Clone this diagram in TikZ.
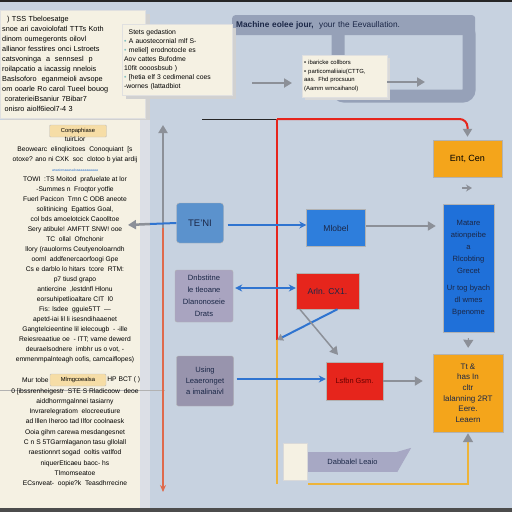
\documentclass[tikz,border=0pt]{standalone}
\usepackage{fontspec}
\setmainfont{Liberation Sans}
\usepackage{tikz}
\usetikzlibrary{positioning,arrows.meta}
\definecolor{bgblue}{HTML}{C7D2E0}
\definecolor{cream}{HTML}{F5F1E3}
\definecolor{stripgray}{HTML}{DCDFE6}
\definecolor{framegray}{HTML}{96A1B8}
\definecolor{tenblue}{HTML}{5B92CD}
\definecolor{modblue}{HTML}{2E7EDC}
\definecolor{tallblue}{HTML}{1F70D9}
\definecolor{boxred}{HTML}{E6251C}
\definecolor{boxorange}{HTML}{F4A51B}
\definecolor{lilac}{HTML}{A9A4C0}
\definecolor{ribbon}{HTML}{A7A8C4}
\definecolor{arrowblue}{HTML}{2F74D0}
\definecolor{arrowgray}{HTML}{8C9098}
\definecolor{goldline}{HTML}{EDB43A}
\definecolor{tagyellow}{HTML}{F6DDA6}
\definecolor{navy}{HTML}{1B2747}
\definecolor{vline}{HTML}{DF6A4C}
\newcommand{\notefont}{\fontsize{7.3}{10}\selectfont}
\newcommand{\smallnote}{\fontsize{6.8}{9}\selectfont}
\newcommand{\tinynote}{\fontsize{5.9}{8.5}\selectfont}
\newcommand{\panelfont}{\fontsize{6.7}{10}\selectfont}
\newcommand{\tagfont}{\fontsize{5.8}{7}\selectfont}
\newcommand{\boxfont}{\fontsize{8.5}{11}\selectfont}
\newcommand{\midfont}{\fontsize{7.6}{12}\selectfont}
\tikzset{
  paper/.style={fill=cream, draw=black!12, inner sep=3pt, align=left},
  flowbox/.style={draw=black!30, line width=.4pt, align=center, inner sep=1pt, text=navy},
  tag/.style={fill=tagyellow, draw=black!25, rounded corners=1pt, inner sep=1pt, font=\tagfont, minimum height=12pt},
  barrow/.style={-{Stealth[length=7pt,width=7pt]}, line width=2pt, arrowblue},
  garrow/.style={-{Triangle[length=8pt,width=9pt]}, line width=2.5pt, arrowgray},
  redline/.style={line width=2pt, boxred},
  goldpath/.style={line width=1.6pt, goldline},
}
\begin{document}
\begin{tikzpicture}[x=1pt,y=-1pt]
\useasboundingbox (0,0) rectangle (512,512);
\fill[bgblue] (0,0) rectangle (512,512);
\fill[black!85] (0,0) rectangle (512,2);
\fill[black!70] (0,508) rectangle (512,512);

% top right frame with its header
\draw[line width=13pt, framegray, rounded corners=6pt] (338,28) rectangle (469,96);
\node[anchor=north west, fill=framegray, rounded corners=3pt, minimum width=243pt, minimum height=20pt, text width=235pt, inner sep=3pt, text=navy, font=\fontsize{8.3}{10}\selectfont] (head) at (232,15) {\textbf{Machine eolee jour,}\ \ your the Eevaullation.};

% paper notes
\fill[black!18] (4,14) rectangle (150,122);
\node[paper, anchor=north west, minimum width=145pt, minimum height=108pt, text width=141pt, inner sep=2pt, font=\notefont] (tss) at (0,10) {\ \ ) TSS Tbeloesatge\\ snoe ari cavoiolofatl TTTs Koth\\ dinom oumegeronts oilovl\\ allianor fesstires onci Lstroets\\ catsvoninga \ a \ sennsesl \ p\\ roilapcatio a iacassig nnelois\\ Baslsoforo \ eganmeioli avsope\\ om ooarle Ro carol Tueel bouog\\ \ coraterieiBsaniur 7Bibar7\\ \ onisro aiolf6ieol7-4 3};
\fill[black!18] (126,28) rectangle (236,99);
\node[paper, anchor=north west, minimum width=110pt, minimum height=71pt, text width=106pt, inner sep=2pt, font=\smallnote] (stets) at (122,24) {\ \ Stets gedastion\\ {\color{teal!50}•} A auostecornial mlf S-\\ {\color{teal!50}•} meliel] erodnotocle es\\ Aov cattes Bufodme\\ 10fit oooosbsub )\\ {\color{teal!50}•} [hetia elf 3 cedimenal coes\\ -wornes (lattadbiot};
\fill[black!15] (305,58) rectangle (390,100);
\node[paper, anchor=north west, minimum width=85pt, minimum height=42pt, text width=81pt, inner sep=2pt, font=\tinynote] (ibar) at (302,55) {• ibaricke collbors\\ • particomaliiaiu(CTTG,\\ aas. Fhd procsuun\\ (Aamm wmcaihanol)};

\coordinate (t1) at (252,83);
\coordinate (t2) at (425,82);
\draw[garrow, shorten >=10pt] (t1) -- (ibar.west |- t1);
\draw[garrow] (ibar.east |- t2) -- (t2);

% left panel
\node[anchor=north west, fill=cream, minimum width=140pt, minimum height=388pt, inner sep=0pt] (panel) at (0,120) {};
\fill[stripgray] (140,120) rectangle (150,508);
\node[tag, minimum width=57pt] (comp) at (78,131) {Conpaphiase};
\node[anchor=north, align=center, inner sep=0pt, font=\panelfont] (ptxt) at (75,136) {tuirLior\\ Beowearc \ elinqlicitoes \ Conoquiant \ [s\\ otoxe? ano ni CXK \ soc \ clotoo b yiat ardij\\ {\color{arrowblue}\fontsize{3.5}{4}\selectfont anasionaaasaloaaaaaaaaaaa}\\ TOWI \ :TS Moitod \ prafuelate at lor\\ -Summes n \ Froqtor yotfie\\ Fuerl Pacicon \ Tmn C ODB aneote\\ solitinicing \ Egattios Goal,\\ col bds amoelotcick Caoolltoe\\ Sery atibule! AMFTT SNW! ooe\\ TC \ ollal \ Ofnchonir\\ llory (rauolorms Ceutyenoloarndh\\ ooml \ addfenercaorfoogi Gpe\\ Cs e darblo lo hitars \ tcore \ RTM:\\ p7 tiusd grapo\\ antiercine \ ,lestdnfl Hlonu\\ eorsuhipetlioaltare CIT \ l0\\ Fis: lsdee \ gguie5TT \ ---\\ apetd-iai lil li isesndihaaenet\\ Gangtelcieentine lil ielecougb \ - -ille\\ Reiesreaatiue oe \ - ITT; vame dewerd\\ deuraelsodnere \ imbhr us o vot, -\\ emmenmpalnteagh oofis, camcaiflopes)};
\node[tag, minimum width=56pt] (mlmg) at (78,380) {Mlmgcoealsa};
\node[left=1pt of mlmg, font=\panelfont, inner sep=0pt] (mur) {Mur tobe};
\node[right=1pt of mlmg, font=\panelfont, inner sep=0pt] (hpb) {HP BCT ( )};
\draw[black!30, line width=.6pt] (panel.west |- 0,390) -- ++(165,0);
\node[anchor=north, align=center, inner sep=0pt, font=\fontsize{6.7}{10.3}\selectfont] (ptxt2) at (75,388) {0 [ibssrenheigestr \ STE S Rladicoow \ deoe\\ aiddhorrmgalnnei tasiarny\\ Invrarelegratiom \ elocreeutiure\\ ad lllen Iheroo tad Ilfor coolnaesk\\ Ooia gihm carewa mesdangesnet\\ C n S 5TGarmlaganon tasu gllolall\\ raestionnrt sogad \ ooltis vatlfod\\ niquerEticaeu baoc- hs\\ Tlmomseatoe\\ ECsnveat- \ oopie?k \ Teasdhrrecine};

% vertical line beside the panel
\coordinate (va) at (163,125);
\coordinate (vm) at (163,228);
\coordinate (vb) at (163,492);
\draw[garrow, line width=2pt] (vm) -- (va);
\draw[vline, line width=2pt, -{Stealth[length=7pt,width=6pt]}] (vm) -- (vb);

% flow boxes
\node[flowbox, fill=tenblue, rounded corners=3pt, minimum width=47pt, minimum height=40pt, font=\fontsize{9.5}{11}\selectfont] (teni) at (200,223) {TE'NI};
\node[flowbox, fill=modblue, minimum width=59pt, minimum height=37pt, font=\boxfont] (model) at (336,228) {Mlobel};
\node[flowbox, fill=boxorange, minimum width=69pt, minimum height=37pt, text=black, font=\fontsize{9}{11}\selectfont] (ent) at (467.5,158.5) {Ent, Cen};
\node[flowbox, fill=tallblue, minimum width=51pt, minimum height=128pt, font=\midfont] (tall) at (468.5,268) {Matare\\ ationpeibe\\ a\\ Rlcobting\\ Grecet\\[5pt] Ur tog byach\\ dl wmes\\ Bpenome};
\node[flowbox, fill=lilac, rounded corners=2pt, minimum width=58pt, minimum height=52pt, font=\midfont] (dnb) at (204,296) {Dnbstitne\\ le tleoane\\ Dlanonoseie\\ Drats};
\node[flowbox, fill=boxred, minimum width=63pt, minimum height=36pt, font=\boxfont] (arln) at (327.5,291) {Arln. CX1.};
\node[flowbox, fill=lilac!90!black, rounded corners=2pt, minimum width=57pt, minimum height=50pt, font=\fontsize{7.6}{11}\selectfont] (using) at (205,381) {Using\\ Leaeronget\\ a imalinaivl};
\node[flowbox, fill=boxred, minimum width=57pt, minimum height=38pt, text=red!40!black, font=\fontsize{7.4}{9}\selectfont] (lsfbn) at (354.5,381) {Lsfbn Gsm.};
\node[flowbox, fill=boxorange, minimum width=70pt, minimum height=78pt, font=\fontsize{8}{10.6}\selectfont] (learn) at (468,393) {Tt \&\\ has In\\ cltr\\ lalanning 2RT\\ Eere.\\ Leaern};

% banner
\node[fill=ribbon, minimum width=89pt, minimum height=20pt, inner sep=1pt, text=navy, font=\fontsize{7.5}{9}\selectfont] (bann) at (352.5,462) {Dabbalel Leaio};
\fill[ribbon] (bann.north east) -- ++(14,-4) -- (bann.south east) -- cycle;
\node[fill=cream, draw=black!15, minimum width=24pt, minimum height=37pt, inner sep=0pt, left=0pt of bann] (tab) {};

% red and gold lines
\coordinate (blk) at (202,119);
\coordinate (rj) at (277,119);
\coordinate (rb) at (277,340);
\coordinate (gb) at (277,484);
\coordinate (gs) at (308,484);
\draw[black!85, line width=1pt] (blk) -- (rj);
\draw[redline, rounded corners=8pt, -{Triangle[arrowgray,length=8pt,width=9pt]}, shorten >=3pt] (rj) -| (ent.north);
\draw[redline] (rj) -- (rb);
\draw[goldpath] (rb) -- (gb);
\draw[goldpath, -{Triangle[arrowgray,length=9pt,width=10pt]}, shorten >=1pt] (gs) -| (learn.south);

% connectors
\coordinate (lp) at (150,224);
\coordinate (lq) at (128,225);
\coordinate (mw) at ([yshift=3pt]model.west);
\coordinate (aw) at ([yshift=3pt]arln.west);
\coordinate (lw) at ([yshift=2pt]lsfbn.west);
\draw[garrow] (lp) -- (lq);
\draw[arrowblue, line width=2pt] (lp) -- (teni.west);
\draw[barrow] ([xshift=4pt]teni.east |- mw) -- (mw);
\draw[garrow, shorten >=7pt] ([yshift=2pt]model.east) -- ([yshift=2pt]tall.west |- model.east);
\coordinate (c1) at (462,188);
\draw[arrowgray, line width=1.5pt, -{Stealth[length=6pt,width=7pt]}] (c1) -- ++(10,0);
\draw[{Stealth[length=7pt,width=7pt]}-{Stealth[length=7pt,width=7pt]}, line width=2pt, arrowblue] ([xshift=2pt]dnb.east |- aw) -- (aw);
\draw[arrowblue, line width=2pt, -{Triangle[arrowgray,length=6pt,width=7pt]}] ([xshift=10pt]arln.south) -- (rb);
\draw[garrow, line width=1.5pt, shorten >=9pt] ([xshift=4pt]arln.south west) -- ([xshift=18pt]lsfbn.north west);
\draw[barrow] ([xshift=3pt]using.east |- lw) -- (lw);
\draw[garrow, line width=2pt, shorten >=10pt] (lsfbn.east) -- (learn.west |- lsfbn.east);
\draw[arrowgray, line width=1pt, -{Triangle[length=8pt,width=10pt]}, shorten <=6pt, shorten >=6pt] (tall.south) -- (learn.north);
\end{tikzpicture}
\end{document}
